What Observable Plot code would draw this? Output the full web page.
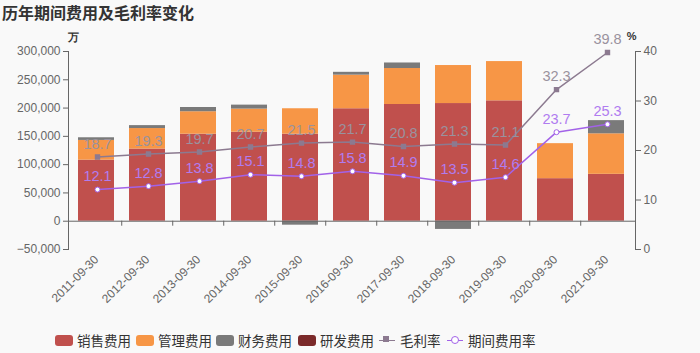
<!DOCTYPE html>
<html>
<head>
<meta charset="utf-8">
<script src="https://cdn.jsdelivr.net/npm/d3@7"></script>
<script src="https://cdn.jsdelivr.net/npm/@observablehq/plot@0.6"></script>
<style>
  html, body { margin: 0; padding: 0; background: #f9f9f9; }
  body { width: 700px; height: 353px; overflow: hidden; font-family: "Liberation Sans", Arial, sans-serif; }
  #title { height: 22px; line-height: 22px; padding-left: 2px; font: bold 16px "Noto Sans CJK SC", sans-serif; color: #333; }
  #chart { position: relative; width: 700px; height: 308px; }
  #chart svg { position: absolute; left: 0; top: 0; background: transparent; }
  #legend { position: relative; height: 23px; }
  .item { position: absolute; top: 0; display: flex; align-items: center; height: 20px; font: 13.5px "Noto Sans CJK SC", sans-serif; color: #333; }
  .sw { width: 18px; height: 11px; border-radius: 3px; margin-right: 4px; }
  .ln { position: relative; width: 16px; height: 11px; margin-right: 5px; }
  .ln::before { content: ""; position: absolute; left: 0; right: 0; top: 5px; height: 1.5px; background: var(--c); }
  .ln span { position: absolute; left: 4px; top: 1px; width: 6px; height: 6px; box-sizing: border-box; }
</style>
</head>
<body>
<div id="title">历年期间费用及毛利率变化</div>
<div id="chart"></div>
<div id="legend"></div>
<script>
// ---- data ----
const dates = ["2011-09-30","2012-09-30","2013-09-30","2014-09-30","2015-09-30","2016-09-30","2017-09-30","2018-09-30","2019-09-30","2020-09-30","2021-09-30"];
const salesExp   = [108000, 127600, 153900, 157300, 153900, 198800, 206300, 208000, 212800, 75200, 82900];
const adminExp   = [34800, 36200, 39600, 40900, 44900, 59400, 63600, 67200, 69400, 61900, 71600];
const financeExp = [4700, 5200, 7500, 7000, -7000, 5000, 9800, -14500, 0, 0, 23300];
const rdExp      = [0, 0, 0, 0, 0, 0, 0, 0, 0, 0, 0];
const grossMargin = [18.7, 19.3, 19.7, 20.7, 21.5, 21.7, 20.8, 21.3, 21.1, 32.3, 39.8];
const periodRate  = [12.1, 12.8, 13.8, 15.1, 14.8, 15.8, 14.9, 13.5, 14.6, 23.7, 25.3];
const costTypes = ["销售费用", "管理费用", "财务费用", "研发费用"];
const lineNames = ["毛利率", "期间费用率"];
const leftTicks = [-50000, 0, 50000, 100000, 150000, 200000, 250000, 300000];
const rightTicks = [0, 10, 20, 30, 40];

// ---- styles ----
const costColors = ["#c0504d", "#f79646", "#7a7a7a", "#7b2a2a"];
const grossColor = "#8c7a90", grossLabel = "#9a929e";
const periodColor = "#a262e8", periodLabel = "#b07cf0";
const axisColor = "#666";

const W = 700, H = 308, mL = 68, mR = 65, mT = 29, mB = 81;
const step = (W - mL - mR) / dates.length;

const costRows = [];
[salesExp, adminExp, financeExp, rdExp].forEach((arr, k) =>
  arr.forEach((v, i) => costRows.push({date: dates[i], type: costTypes[k], value: v})));
const lineRows = dates.map((d, i) => ({date: d, gross: grossMargin[i], period: periodRate[i]}));

const xScale = {domain: dates, paddingInner: 0.29, paddingOuter: 0.145};
const common = {width: W, height: H, marginLeft: mL, marginRight: mR, marginTop: mT, marginBottom: mB,
  style: {background: "transparent", fontFamily: "'Liberation Sans', Arial, sans-serif", fontSize: "12px"}};

const plotBars = Plot.plot({
  ...common,
  x: {...xScale, axis: null},
  y: {domain: [-50000, 300000], axis: null},
  color: {domain: costTypes, range: costColors},
  marks: [
    Plot.barY(costRows, Plot.stackY({x: "date", y: "value", fill: "type", order: costTypes})),
    Plot.ruleY([0], {stroke: axisColor, strokeWidth: 1}),
    Plot.ruleX(dates.slice(1), {x: d => d, dx: -step / 2, y1: 0, y2: 0, insetBottom: -5, stroke: axisColor}),
    Plot.frame({anchor: "left", stroke: axisColor}),
    Plot.axisY({ticks: leftTicks, tickFormat: d3.format(","), tickSize: 5, tickPadding: 3, color: axisColor, fontSize: 12, label: null}),
    Plot.axisX({tickRotate: -45, tickSize: 0, tickPadding: 8, color: axisColor, fontSize: 12, label: null}),
    Plot.text(["万"], {frameAnchor: "top-left", dx: -1, dy: -18, fontWeight: "bold", fontSize: 11, fill: "#333"})
  ]
});

const plotLines = Plot.plot({
  ...common,
  x: {...xScale, axis: null},
  y: {domain: [0, 40], axis: null},
  marks: [
    Plot.frame({anchor: "right", stroke: axisColor}),
    Plot.axisY({anchor: "right", ticks: rightTicks, tickSize: 5, tickPadding: 3, color: axisColor, fontSize: 12, label: null}),
    Plot.line(lineRows, {x: "date", y: "gross", stroke: grossColor, strokeWidth: 1.5}),
    Plot.dot(lineRows, {x: "date", y: "gross", symbol: "square", r: 2.2, fill: grossColor, stroke: grossColor}),
    Plot.line(lineRows, {x: "date", y: "period", stroke: periodColor, strokeWidth: 1.5}),
    Plot.dot(lineRows, {x: "date", y: "period", r: 2.5, fill: "white", stroke: periodColor, strokeWidth: 1}),
    Plot.text(lineRows, {x: "date", y: "gross", text: d => d.gross.toFixed(1), dy: -13, fontSize: 14.5, fill: grossLabel}),
    Plot.text(lineRows, {x: "date", y: "period", text: d => d.period.toFixed(1), dy: -13, fontSize: 14.5, fill: periodLabel}),
    Plot.text(["%"], {frameAnchor: "top-right", dx: 1, dy: -19, fontWeight: "bold", fontSize: 11, fill: "#333"})
  ]
});

document.getElementById("chart").append(plotBars, plotLines);

// ---- legend ----
const legend = document.getElementById("legend");
const lefts = [55, 136, 216, 298];
costTypes.forEach((t, k) => {
  const it = document.createElement("div");
  it.className = "item"; it.style.left = lefts[k] + "px";
  it.innerHTML = `<div class="sw" style="background:${costColors[k]}"></div>${t}`;
  legend.append(it);
});
const lineLefts = [379, 447];
const lineStyles = [
  `background:${grossColor}`,
  `background:#fff;border:1px solid ${periodColor};border-radius:50%;width:8px;height:8px;left:4px;top:1.5px`
];
const lineCols = [grossColor, periodColor];
lineNames.forEach((t, k) => {
  const it = document.createElement("div");
  it.className = "item"; it.style.left = lineLefts[k] + "px";
  it.innerHTML = `<div class="ln" style="--c:${lineCols[k]}"><span style="${lineStyles[k]}"></span></div>${t}`;
  legend.append(it);
});
</script>
</body>
</html>
